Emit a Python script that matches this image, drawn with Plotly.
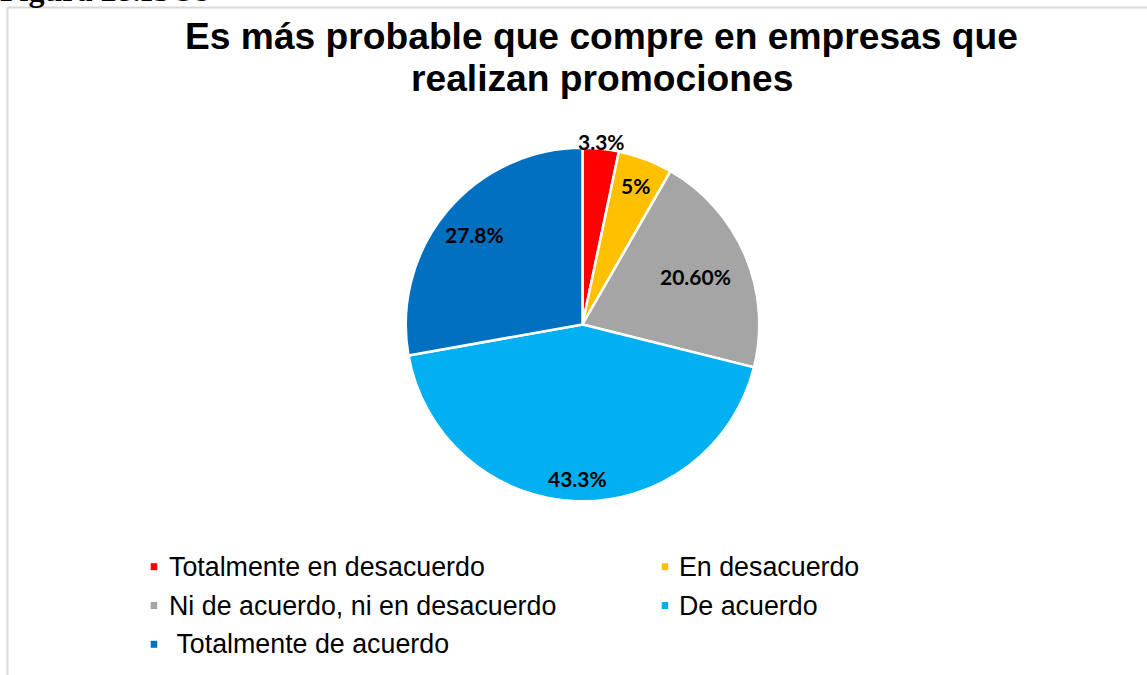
import math
import plotly.graph_objects as go

# Survey answers and their shares (percent)
categories = [
    "Totalmente en desacuerdo",
    "En desacuerdo",
    "Ni de acuerdo, ni en desacuerdo",
    "De acuerdo",
    "Totalmente de acuerdo",
]
values = [3.3, 5.0, 20.6, 43.3, 27.8]
value_labels = ["3.3%", "5%", "20.60%", "43.3%", "27.8%"]
legend_labels = [
    "Totalmente en desacuerdo",
    "En desacuerdo",
    "Ni de acuerdo, ni en desacuerdo",
    "De acuerdo",
    " Totalmente de acuerdo",
]

colors = ["#FF0000", "#FFC000", "#A5A5A5", "#00B0F0", "#0070C0"]

W, H = 1147, 675
CX, CY, R = 582.5, 324.5, 175.5
EDGE = 2.5
R_OUT = R + EDGE / 2

def px(x):
    return x / W

def py(y):
    return 1 - y / H

fig = go.Figure(
    go.Pie(
        labels=categories,
        values=values,
        sort=False,
        direction="clockwise",
        rotation=0,
        marker=dict(colors=colors, line=dict(color="white", width=EDGE)),
        textinfo="none",
        hoverinfo="label+percent",
        showlegend=False,
        domain=dict(
            x=[px(CX - R_OUT), px(CX + R_OUT)],
            y=[py(CY + R_OUT), py(CY - R_OUT)],
        ),
    )
)

annotations = []
shapes = []

# Data labels placed along each slice's bisector
label_radius = [1.05, 0.85, 0.70, 0.88, 0.80]
total = sum(values)
cum = 0.0
for v, txt, f in zip(values, value_labels, label_radius):
    theta = 2 * math.pi * (cum + v / 2) / total
    cum += v
    lx = CX + f * R * math.sin(theta)
    ly = CY - f * R * math.cos(theta)
    annotations.append(dict(
        x=px(lx), y=py(ly), xref="paper", yref="paper",
        text=f"<b>{txt}</b>", showarrow=False,
        xanchor="center", yanchor="middle",
        borderpad=0, borderwidth=0,
        font=dict(family="Lato", size=21, color="black"),
    ))

# Title, two centred lines
for line, yc in [("Es más probable que compre en empresas que", 35.8),
                 ("realizan promociones", 77.5)]:
    annotations.append(dict(
        x=px(601.5), y=py(yc), xref="paper", yref="paper",
        text=f"<b>{line}</b>", showarrow=False,
        xanchor="center", yanchor="middle",
        borderpad=0, borderwidth=0,
        font=dict(family="Liberation Sans, Arial", size=37.2, color="black"),
    ))

# Caption fragment above the chart frame
annotations.append(dict(
    x=px(0), y=py(8.0), xref="paper", yref="paper",
    text="<b>Figura 28.ISO9</b>", showarrow=False,
    xanchor="left", yanchor="bottom",
    borderpad=0, borderwidth=0,
    font=dict(family="Liberation Serif, Times New Roman", size=32, color="black"),
))

# Legend laid out in two columns
legend_slots = [
    (150.7, 168.5, 566.7),
    (661.7, 679.0, 566.7),
    (150.7, 168.5, 605.5),
    (661.7, 679.0, 605.5),
    (150.7, 168.5, 644.3),
]
for (sx, tx, ty), name, col in zip(legend_slots, legend_labels, colors):
    shapes.append(dict(
        type="rect", xref="paper", yref="paper",
        x0=px(sx), x1=px(sx + 6.5), y0=py(ty + 3.5), y1=py(ty - 3.5),
        fillcolor=col, line=dict(width=0),
    ))
    annotations.append(dict(
        x=px(tx), y=py(ty), xref="paper", yref="paper",
        text=name.replace(" ", "&nbsp;", 1) if name.startswith(" ") else name,
        showarrow=False, xanchor="left", yanchor="middle",
        borderpad=0, borderwidth=0,
        font=dict(family="Liberation Sans, Arial", size=26.8, color="black"),
    ))

# Chart frame (left and top edges)
frame = dict(color="#D9D9D9", width=2)
shapes.append(dict(type="line", xref="paper", yref="paper",
                   x0=px(7.5), x1=px(7.5), y0=py(7.5), y1=py(H + 5), line=frame))
shapes.append(dict(type="line", xref="paper", yref="paper",
                   x0=px(7.5), x1=px(W + 5), y0=py(7.5), y1=py(7.5), line=frame))

fig.update_layout(
    width=W, height=H, autosize=False,
    margin=dict(l=0, r=0, t=0, b=0),
    paper_bgcolor="white", plot_bgcolor="white",
    annotations=annotations, shapes=shapes,
)

fig.write_html("out.html")
